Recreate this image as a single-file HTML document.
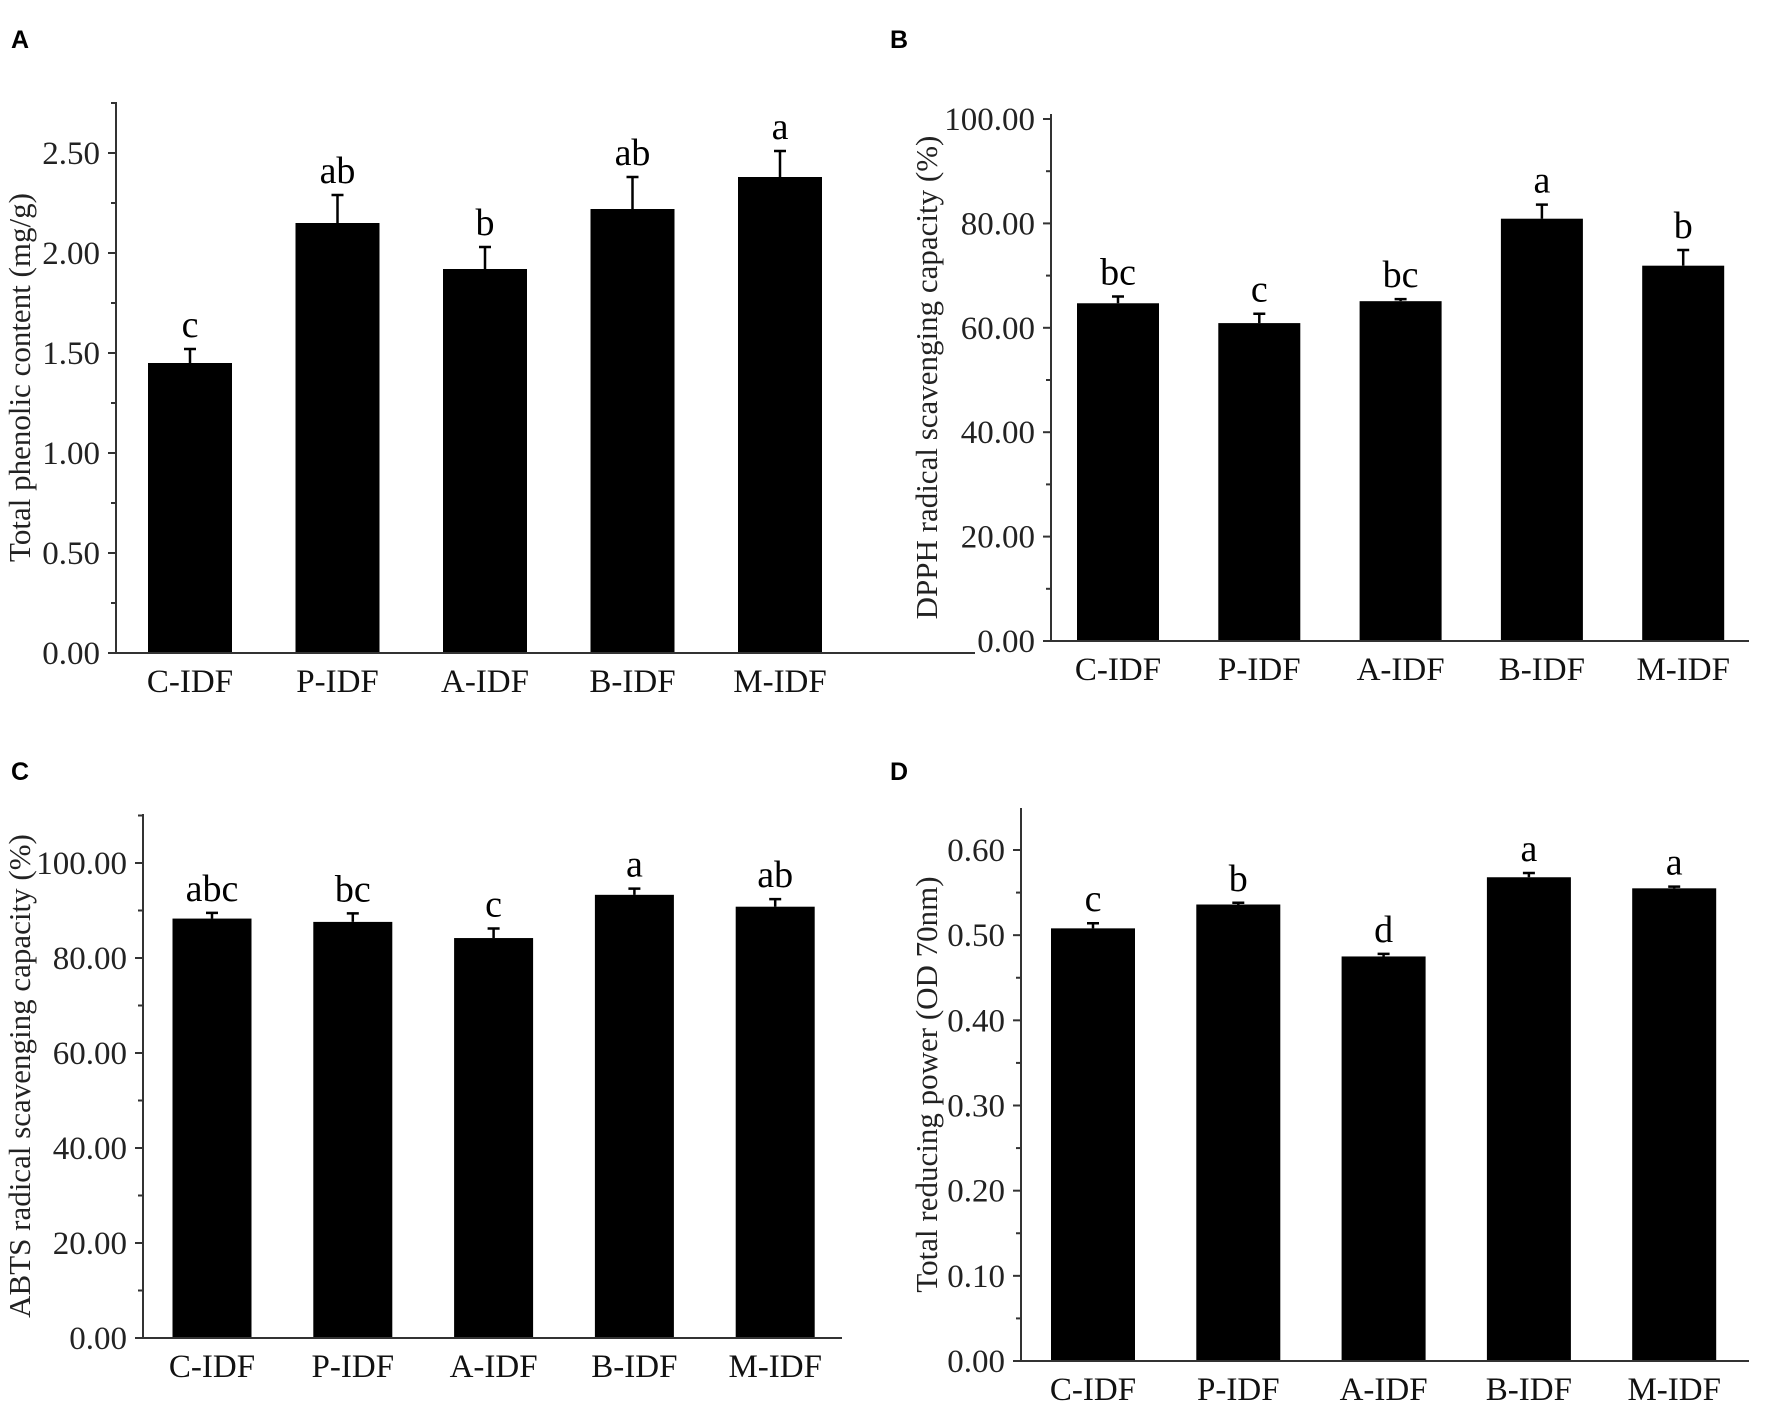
<!DOCTYPE html>
<html><head><meta charset="utf-8"><style>
body{margin:0;background:#fff;}
svg{display:block;font-family:"Liberation Serif",serif;}
.pl{font-family:"Liberation Sans",sans-serif;font-weight:bold;font-size:25px;}
</style></head><body>
<svg id="fig" width="1772" height="1406" viewBox="0 0 1772 1406" xmlns="http://www.w3.org/2000/svg"></svg>
<script>
const categories = ["C-IDF","P-IDF","A-IDF","B-IDF","M-IDF"];
const valuesA = [1.45,2.15,1.92,2.22,2.38];
const errorsA = [0.07,0.14,0.11,0.16,0.13];
const lettersA = ["c","ab","b","ab","a"];
const ticksA = [0,0.5,1.0,1.5,2.0,2.5];
const valuesB = [64.7,60.9,65.1,80.9,71.9];
const errorsB = [1.3,1.8,0.4,2.7,3.0];
const lettersB = ["bc","c","bc","a","b"];
const ticksB = [0,20,40,60,80,100];
const valuesC = [88.3,87.6,84.2,93.3,90.8];
const errorsC = [1.2,1.8,2.0,1.3,1.6];
const lettersC = ["abc","bc","c","a","ab"];
const ticksC = [0,20,40,60,80,100];
const valuesD = [0.508,0.536,0.475,0.568,0.555];
const errorsD = [0.006,0.002,0.003,0.005,0.002];
const lettersD = ["c","b","d","a","a"];
const ticksD = [0,0.1,0.2,0.3,0.4,0.5,0.6];

const NS="http://www.w3.org/2000/svg";
const svg=document.getElementById('fig');
function mk(tag,attrs,parent){const e=document.createElementNS(NS,tag);for(const k in attrs)e.setAttribute(k,attrs[k]);(parent||svg).appendChild(e);return e;}

const panels=[
 {id:'a',letter:'A',lx:11,ly:48,ax:116,y0:653,yTop:102,xr:975,vmax:2.5,ymax:153,centers0:190,step:147.5,bw:84,values:valuesA,errors:errorsA,letters:lettersA,ticks:ticksA,title:'Total phenolic content (mg/g)',tx:23},
 {id:'b',letter:'B',lx:890,ly:48,ax:1051,y0:641,yTop:114,xr:1749,vmax:100,ymax:119,centers0:1118,step:141.3,bw:82,values:valuesB,errors:errorsB,letters:lettersB,ticks:ticksB,title:'DPPH radical scavenging capacity (%)',tx:930},
 {id:'c',letter:'C',lx:11,ly:780,ax:143,y0:1338,yTop:814,xr:842,vmax:100,ymax:863,centers0:212,step:140.8,bw:79,values:valuesC,errors:errorsC,letters:lettersC,ticks:ticksC,title:'ABTS radical scavenging capacity (%)',tx:23},
 {id:'d',letter:'D',lx:890,ly:780,ax:1021,y0:1361,yTop:808,xr:1749,vmax:0.6,ymax:850,centers0:1093,step:145.3,bw:84,values:valuesD,errors:errorsD,letters:lettersD,ticks:ticksD,title:'Total reducing power (OD 70nm)',tx:930}
];

panels.forEach(p=>{
  const g=mk('g',{});
  
  
  const yS=v=>p.y0-(v/p.vmax)*(p.y0-p.ymax);
  const lab=mk('text',{x:p.lx,y:p.ly,class:'pl'},g);lab.textContent=p.letter;
  
  
  p.values.forEach((v,i)=>{
    const cx=p.centers0+i*p.step;
    const r=mk('rect',{x:cx-p.bw/2,y:yS(v),width:p.bw,height:p.y0-yS(v),fill:'#000'},g);
    
    
    const et=yS(v+p.errors[i]);
    const e=mk('path',{d:`M${cx},${yS(v)}V${et}M${cx-6},${et}H${cx+6}`,stroke:'#000','stroke-width':2.5,fill:'none'},g);
    
    
    const t=mk('text',{x:cx,y:et-12,'text-anchor':'middle','font-size':38},g);t.textContent=p.letters[i];
    
    
    const xl=mk('text',{x:cx,y:p.y0+39,'text-anchor':'middle','font-size':33,fill:'#111'},g);xl.textContent=categories[i];
    
    
  });
  const ax=mk('path',{d:`M${p.ax},${p.yTop}V${p.y0}H${p.xr}`,stroke:'#333','stroke-width':2,fill:'none'},g);
  
  
  const tstep=p.ticks[1]-p.ticks[0];
  p.ticks.forEach(tv=>{
    const y=yS(tv);
    mk('line',{x1:p.ax-8,x2:p.ax,y1:y,y2:y,stroke:'#333','stroke-width':2},g);
    const ym=yS(tv+tstep/2);
    if(ym>=p.yTop) mk('line',{x1:p.ax-5,x2:p.ax,y1:ym,y2:ym,stroke:'#333','stroke-width':2},g);
    const t=mk('text',{x:p.ax-16,y:y+11,'text-anchor':'end','font-size':33,fill:'#222'},g);
    t.textContent=tv.toFixed(2);
    
    
  });
  const cy=(p.yTop+p.y0)/2;
  const yt=mk('text',{x:p.tx,y:cy,'text-anchor':'middle','font-size':31,fill:'#222',transform:`rotate(-90 ${p.tx} ${cy})`},g);
  yt.textContent=p.title;
  yt.setAttribute('dominant-baseline','middle');
  
  
});
</script>
</body></html>
